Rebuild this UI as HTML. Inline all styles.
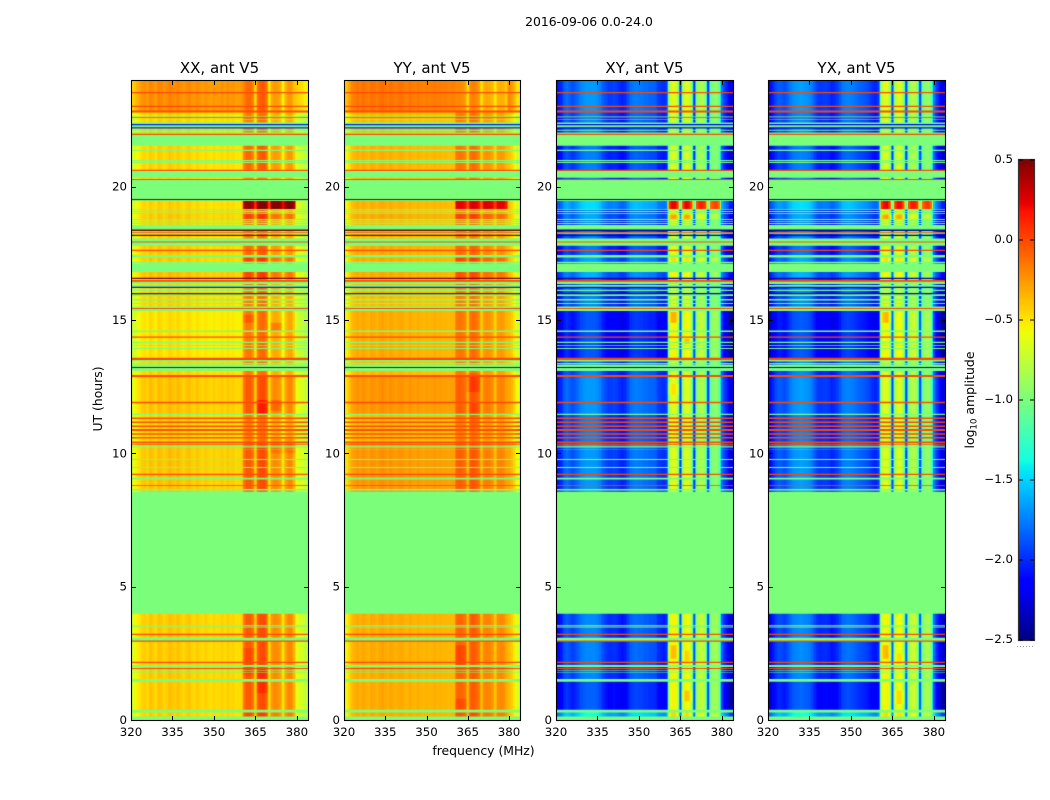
<!DOCTYPE html>
<html lang="en">
<head>
<meta charset="utf-8">
<title>2016-09-06 0.0-24.0</title>
<style>
html,body{margin:0;padding:0;background:#fff;}
#figure{position:relative;width:1050px;height:800px;overflow:hidden;background:#fff;font-family:"DejaVu Sans","Liberation Sans",sans-serif;}
canvas{position:absolute;display:block;}
svg{position:absolute;left:0;top:0;}
svg text{font-family:"DejaVu Sans","Liberation Sans",sans-serif;fill:#000;}
</style>
</head>
<body>
<div id="figure">
<svg id="overlay" width="1050" height="800"></svg>
</div>
<script>
// ---------- chart data ----------
const panelTitles = ["XX, ant V5", "YY, ant V5", "XY, ant V5", "YX, ant V5"];
const panelNames = ["xx", "yy", "xy", "yx"];
const freqTicks = [320, 335, 350, 365, 380];
const hourTicks = [0, 5, 10, 15, 20];
const colorTicks = [0.5, 0.0, -0.5, -1.0, -1.5, -2.0, -2.5];
const colorTickLabels = ["0.5", "0.0", "\u22120.5", "\u22121.0", "\u22121.5", "\u22122.0", "\u22122.5"];

// log10 amplitude per 1 MHz channel, 320..383 MHz
const spectrumXX = [-0.72,-0.62,-0.55,-0.5,-0.44,-0.42,-0.46,-0.38,-0.42,-0.46,-0.38,-0.4,-0.45,-0.42,-0.37,-0.4,-0.43,-0.38,-0.42,-0.46,-0.42,-0.39,-0.44,-0.46,-0.41,-0.45,-0.47,-0.43,-0.46,-0.48,-0.44,-0.47,-0.46,-0.43,-0.47,-0.42,-0.46,-0.44,-0.48,-0.47,-0.45,-0.12,-0.05,-0.05,-0.12,-0.42,-0.05,0.0,0.0,-0.08,-0.48,-0.25,-0.2,-0.22,-0.28,-0.5,-0.28,-0.2,-0.2,-0.35,-0.62,-0.65,-0.68,-0.75];
const spectrumYY = [-0.62,-0.55,-0.45,-0.36,-0.33,-0.3,-0.34,-0.29,-0.32,-0.35,-0.29,-0.31,-0.34,-0.3,-0.28,-0.31,-0.33,-0.29,-0.32,-0.34,-0.31,-0.3,-0.33,-0.35,-0.31,-0.34,-0.35,-0.32,-0.34,-0.36,-0.33,-0.35,-0.34,-0.32,-0.35,-0.33,-0.35,-0.34,-0.36,-0.35,-0.34,-0.1,-0.08,-0.1,-0.14,-0.36,-0.08,-0.05,-0.08,-0.14,-0.38,-0.2,-0.18,-0.2,-0.24,-0.4,-0.22,-0.2,-0.22,-0.3,-0.36,-0.42,-0.52,-0.66];
const spectrumXY = [-2.2,-2.1,-2.05,-1.9,-1.85,-1.9,-1.95,-1.9,-1.85,-1.78,-1.75,-1.72,-1.72,-1.72,-1.72,-1.75,-1.8,-1.9,-1.95,-2.0,-2.0,-1.98,-2.0,-2.05,-2.08,-2.05,-1.95,-1.85,-1.82,-1.8,-1.82,-1.82,-1.85,-1.85,-1.88,-1.88,-1.9,-2.0,-2.02,-2.05,-2.0,-0.72,-0.55,-0.55,-0.72,-1.9,-0.72,-0.55,-0.58,-0.8,-1.9,-0.88,-0.75,-0.75,-0.85,-1.9,-0.98,-0.88,-0.85,-1.0,-1.85,-2.0,-2.1,-2.3];
const spectrumYX = [-2.25,-2.15,-2.05,-1.95,-1.9,-1.92,-1.95,-1.9,-1.82,-1.76,-1.73,-1.72,-1.7,-1.72,-1.73,-1.76,-1.82,-1.92,-2.0,-2.02,-2.0,-2.0,-2.02,-2.08,-2.05,-2.0,-1.92,-1.82,-1.8,-1.78,-1.8,-1.82,-1.85,-1.88,-1.9,-1.92,-1.95,-2.0,-2.05,-2.08,-2.0,-0.72,-0.58,-0.55,-0.72,-1.85,-0.72,-0.58,-0.58,-0.8,-1.85,-0.88,-0.72,-0.72,-0.85,-1.85,-0.98,-0.85,-0.82,-0.98,-1.8,-2.0,-2.12,-2.3];

// channel span that carries the bright sub-bands
const brightChannels = [41, 59];

// level offsets: xxLow, xxBright, yyLow, yyBright, xyLow, xyBright, yxLow, yxBright
const levelLow = [0,0,0,0,0,0,0,0];
const levelLowDark = [0,0,0,0,-0.12,0,-0.12,0];
const levelBottom = [-0.02,0.05,0,0.05,0.35,0.1,0.35,0.1];
const levelTop = [0.2,-0.05,0.17,-0.12,0.05,-0.08,0.05,-0.08];
const levelYellow = [-0.03,-0.12,-0.05,-0.08,0,-0.1,0,-0.1];
const levelUpper = [-0.03,-0.05,-0.02,-0.05,-0.03,-0.1,-0.03,-0.1];
const levelHot = [-0.03,0.5,-0.02,0.33,0.25,0.78,0.25,0.78];
const levelWarm = [0,0.08,0,0.1,0.1,0.08,0.1,0.08];
const levelBand = [0,-0.05,0,-0.02,-0.05,-0.08,-0.05,-0.08];
const levelWarmer = [0.03,0.06,0,0.06,0.12,0,0.12,0];
const levelMid = [-0.07,-0.1,0,-0.05,-0.15,0,-0.15,0];
const levelOrange = [0.02,0,0.07,0.02,0.05,-0.08,0.05,-0.08];

const levelOffsets = {low:levelLow, lowd:levelLowDark, bot:levelBottom, top:levelTop, yel:levelYellow, up:levelUpper, hot:levelHot, warm:levelWarm, band:levelBand, warmer:levelWarmer, mid:levelMid, oran:levelOrange};

// flat rows: flagged (F), saturated red (R), dark (K), blue (L); one value per panel
const flatLevels = {F:[-1,-1,-1,-1], R:[0,0,0,0], K:[0.5,0.5,-2.4,-2.4], L:[-2.05,-2.05,-2.2,-2.2]};

// time structure: [hour where segment begins (going down from 24), kind]
const segments = [
[24,'top'],[23.55,'R'],[23.5,'top'],[23.03,'R'],[22.99,'top'],[22.86,'R'],[22.78,'yel'],[22.63,'F'],[22.61,'R'],[22.58,'yel'],[22.52,'F'],[22.5,'yel'],[22.41,'F'],[22.35,'L'],[22.3,'F'],[22.23,'L'],[22.18,'yel'],[22.13,'F'],[22.1,'yel'],[22.03,'F'],[21.98,'R'],[21.94,'F'],
[21.53,'up'],[21.38,'F'],[21.34,'up'],[21,'F'],[20.96,'up'],[20.93,'F'],[20.89,'up'],[20.63,'R'],[20.59,'F'],[20.33,'yel'],[20.29,'R'],[20.25,'F'],
[19.54,'K'],[19.5,'F'],[19.46,'hot'],[19.16,'F'],[19.13,'yel'],[19.09,'F'],[19.05,'yel'],[19.01,'F'],[18.98,'warm'],[18.79,'F'],[18.75,'yel'],[18.71,'F'],[18.68,'yel'],[18.64,'F'],[18.6,'yel'],[18.56,'F'],
[18.39,'K'],[18.34,'yel'],[18.3,'R'],[18.27,'F'],[18.23,'yel'],[18.2,'K'],[18.15,'yel'],[18.06,'F'],[17.94,'R'],[17.91,'F'],[17.78,'band'],[17.63,'R'],[17.59,'band'],[17.44,'F'],[17.34,'warm'],[17.19,'yel'],[17.18,'F'],[17.12,'yel'],[17.1,'F'],[17.04,'F'],
[16.8,'warmer'],[16.58,'K'],[16.54,'yel'],[16.5,'R'],[16.43,'F'],[16.35,'yel'],[16.31,'F'],[16.25,'L'],[16.2,'yel'],[16.13,'F'],[16.09,'yel'],[16.01,'K'],[15.97,'F'],[15.9,'yel'],[15.79,'F'],[15.73,'yel'],[15.64,'F'],[15.6,'yel'],[15.51,'F'],[15.45,'R'],[15.41,'F'],
[15.34,'mid'],[14.61,'F'],[14.55,'mid'],[14.38,'R'],[14.33,'mid'],[14.18,'F'],[14.14,'mid'],[14.06,'F'],[14.03,'mid'],[13.95,'F'],[13.91,'mid'],[13.58,'R'],[13.5,'F'],[13.44,'yel'],[13.39,'F'],[13.33,'yel'],[13.31,'F'],[13.24,'K'],[13.2,'F'],[13.09,'yel'],[12.94,'R'],
[12.86,'oran'],[11.93,'R'],[11.88,'oran'],[11.48,'F'],[11.44,'yel'],[11.34,'R'],[11.29,'yel'],[11.19,'R'],[11.14,'yel'],[11.04,'R'],[10.99,'yel'],[10.91,'R'],[10.84,'yel'],[10.75,'R'],[10.7,'yel'],[10.61,'R'],[10.56,'yel'],[10.44,'R'],[10.39,'oran'],[10.36,'R'],[10.32,'oran'],[10.28,'F'],[10.25,'oran'],[10.22,'F'],[10.2,'oran'],[10.14,'F'],[10.13,'oran'],[9.79,'F'],[9.75,'oran'],[9.49,'F'],[9.45,'oran'],[9.23,'R'],[9.19,'oran'],[9.08,'F'],[9.02,'oran'],[8.81,'R'],[8.78,'oran'],[8.66,'F'],[8.61,'oran'],[8.56,'F'],
[3.98,'low'],[3.56,'F'],[3.53,'low'],[3.51,'F'],[3.47,'low'],[3.23,'R'],[3.19,'low'],[3.08,'F'],[2.98,'R'],[2.93,'low'],[2.18,'R'],[2.14,'low'],[2.06,'F'],[1.99,'low'],[1.95,'R'],[1.91,'low'],[1.86,'F'],[1.84,'low'],[1.78,'F'],[1.76,'low'],[1.54,'F'],[1.43,'lowd'],[0.38,'F'],[0.28,'bot'],[0.13,'F']
];

// localised blotches: [panel, hour top, hour bottom, first channel, last channel, offset]
const patches = [
[0,1.9,1.0,46,49,0.1],[0,2.7,1.7,41,44,0.06],[0,12.0,11.5,46,49,0.16],[0,12.0,11.6,51,54,0.12],[0,10.6,10.0,51,59,0.08],[0,15.2,14.9,41,44,0.1],[0,14.9,14.6,51,54,0.15],[0,19.46,19.16,51,59,0.22],
[1,13.0,12.3,45,49,0.1],[1,2.8,2.0,41,44,0.1],[1,11.9,10.9,46,49,0.06],[1,0.8,0.4,41,44,0.08],[1,19.46,19.16,51,59,0.12],
[2,2.8,2.3,41,44,0.18],[2,2.6,2.2,46,49,0.12],[2,15.3,14.9,41,44,0.22],[2,14.3,14.1,46,49,0.18],[2,12.6,12.2,41,44,0.14],[2,1.1,0.7,46,49,0.16],[2,18.95,18.8,41,49,0.2],[2,19.46,19.16,51,59,0.1],
[3,2.8,2.3,41,44,0.2],[3,2.5,2.1,46,49,0.1],[3,15.3,14.9,41,44,0.2],[3,1.1,0.6,46,49,0.12],[3,18.95,18.8,41,49,0.2],[3,19.46,19.16,51,59,0.1]
];

const spectra = [spectrumXX, spectrumYY, spectrumXY, spectrumYX];

// ---------- axes ----------
const panelLeft = [131, 344, 556, 768];
const panelWidths = [177, 176, 177, 177];
const panelTop = 80;
const panelHeight = 640;
const freqMin = 320, freqMax = 384, hourMin = 0, hourMax = 24;
const colorMin = -2.5, colorMax = 0.5;
const cbLeft = 1019, cbTop = 160, cbWidth = 15, cbHeight = 480;

function xScale(p, f) { return panelLeft[p] + (f - freqMin) / (freqMax - freqMin) * panelWidths[p]; }
function yScale(h) { return panelTop + (hourMax - h) / (hourMax - hourMin) * panelHeight; }
function cbScale(v) { return cbTop + (colorMax - v) / (colorMax - colorMin) * cbHeight; }

function ramp(t, pts) {
  for (let i = 1; i < pts.length; i++) {
    if (t <= pts[i][0]) {
      const a = pts[i - 1], b = pts[i];
      return a[1] + (b[1] - a[1]) * (t - a[0]) / (b[0] - a[0]);
    }
  }
  return pts[pts.length - 1][1];
}
const jetR = [[0,0],[0.35,0],[0.66,1],[0.89,1],[1,0.5]];
const jetG = [[0,0],[0.125,0],[0.375,1],[0.64,1],[0.91,0],[1,0]];
const jetB = [[0,0.5],[0.11,1],[0.34,1],[0.65,0],[1,0]];
const lut = [];
for (let i = 0; i <= 1024; i++) {
  const t = i / 1024;
  lut.push([ramp(t, jetR) * 255, ramp(t, jetG) * 255, ramp(t, jetB) * 255]);
}
function jet(v) {
  let t = (v - colorMin) / (colorMax - colorMin);
  t = Math.max(0, Math.min(1, t));
  return lut[Math.round(t * 1024)];
}

function segmentAt(h) {
  for (let i = segments.length - 1; i >= 0; i--) {
    if (h <= segments[i][0] && (i === segments.length - 1 || h > segments[i + 1][0])) return segments[i][1];
  }
  return 'F';
}

function channelValues(p, h) {
  const key = segmentAt(h);
  const out = new Array(64);
  if (flatLevels[key]) {
    out.fill(flatLevels[key][p]);
    return out;
  }
  const lv = levelOffsets[key];
  const spec = spectra[p];
  for (let c = 0; c < 64; c++) {
    const bright = c >= brightChannels[0] && c <= brightChannels[1];
    out[c] = spec[c] + lv[p * 2 + (bright ? 1 : 0)];
  }
  for (const pt of patches) {
    if (pt[0] === p && h <= pt[1] && h >= pt[2]) {
      for (let c = pt[3]; c <= pt[4]; c++) out[c] += pt[5];
    }
  }
  return out;
}

const figure = document.getElementById('figure');
const SUB = 4;
panelTitles.forEach(function (title, p) {
  const W = panelWidths[p];
  const cv = document.createElement('canvas');
  
  
  cv.width = W;
  cv.height = panelHeight;
  cv.style.left = panelLeft[p] + 'px';
  cv.style.top = panelTop + 'px';
  figure.insertBefore(cv, figure.firstChild);
  const ctx = cv.getContext('2d');
  const img = ctx.createImageData(W, panelHeight);
  const d = img.data;
  const col0 = new Int32Array(W), frac = new Float64Array(W);
  for (let x = 0; x < W; x++) {
    const f = freqMin + (x + 0.5) / W * (freqMax - freqMin);
    const c = Math.min(62.999, f - freqMin);
    col0[x] = Math.floor(c);
    frac[x] = Math.max(0, Math.min(1, (c - col0[x] - 0.2) / 0.6));
  }
  for (let y = 0; y < panelHeight; y++) {
    const rs = new Float64Array(W), gs = new Float64Array(W), bs = new Float64Array(W);
    for (let s = 0; s < SUB; s++) {
      const h = hourMax - (y + (s + 0.5) / SUB) / panelHeight * (hourMax - hourMin);
      const vals = channelValues(p, h);
      for (let x = 0; x < W; x++) {
        const v = vals[col0[x]] * (1 - frac[x]) + vals[col0[x] + 1] * frac[x];
        const c = jet(v);
        rs[x] += c[0]; gs[x] += c[1]; bs[x] += c[2];
      }
    }
    for (let x = 0; x < W; x++) {
      const o = (y * W + x) * 4;
      d[o] = rs[x] / SUB;
      d[o + 1] = gs[x] / SUB;
      d[o + 2] = bs[x] / SUB;
      d[o + 3] = 255;
    }
  }
  ctx.putImageData(img, 0, 0);
});

// colorbar fill
const cb = document.createElement('canvas');


cb.width = cbWidth;
cb.height = cbHeight;
cb.style.left = cbLeft + 'px';
cb.style.top = cbTop + 'px';
figure.insertBefore(cb, figure.firstChild);
const cbCtx = cb.getContext('2d');
for (let y = 0; y < cbHeight; y++) {
  const v = colorMax - (y + 0.5) / cbHeight * (colorMax - colorMin);
  const c = jet(v);
  cbCtx.fillStyle = 'rgb(' + Math.round(c[0]) + ',' + Math.round(c[1]) + ',' + Math.round(c[2]) + ')';
  cbCtx.fillRect(0, y, cbWidth, 1);
}

// ---------- svg overlay ----------
const svg = document.getElementById('overlay');
const NS = 'http://www.w3.org/2000/svg';
function make(tag, attrs, parent, txt) {
  const el = document.createElementNS(NS, tag);
  for (const k in attrs) el.setAttribute(k, attrs[k]);
  if (txt !== undefined) el.textContent = txt;
  (parent || svg).appendChild(el);
  return el;
}

panelTitles.forEach(function (title, p) {
  const g = make('g', {});
  
  
  const left = panelLeft[p];
  const W = panelWidths[p];
  const frame = make('rect', {x: left + 0.5, y: panelTop + 0.5, width: W, height: panelHeight, fill: 'none', stroke: '#000', 'stroke-width': 1.1}, g);
  
  
  const tt = make('text', {x: left + W / 2, y: 73, 'text-anchor': 'middle', 'font-size': 15}, g, title);
  
  
  freqTicks.forEach(function (f) {
    const x = Math.round(xScale(p, f)) + 0.5;
    const tb = make('line', {x1: x, x2: x, y1: panelTop + panelHeight + 0.5, y2: panelTop + panelHeight - 4, stroke: '#000', 'stroke-width': 1}, g);
    
    
    const tu = make('line', {x1: x, x2: x, y1: panelTop + 0.5, y2: panelTop + 5, stroke: '#000', 'stroke-width': 1}, g);
    
    
    const lb = make('text', {x: xScale(p, f), y: 736, 'text-anchor': 'middle', 'font-size': 11.8}, g, String(f));
    
    
  });
  hourTicks.forEach(function (h) {
    const y = Math.round(yScale(h)) + 0.5;
    const tl = make('line', {x1: left + 0.5, x2: left + 5, y1: y, y2: y, stroke: '#000', 'stroke-width': 1}, g);
    
    
    const tr = make('line', {x1: left + W + 0.5, x2: left + W - 4, y1: y, y2: y, stroke: '#000', 'stroke-width': 1}, g);
    
    
    const lb = make('text', {x: left - 4, y: yScale(h) + 4, 'text-anchor': 'end', 'font-size': 11.8}, g, String(h));
    
    
  });
});

// colorbar frame, ticks, labels
const cbGroup = make('g', {});


const cbFrame = make('rect', {x: cbLeft - 0.5, y: cbTop - 0.5, width: cbWidth + 1, height: cbHeight + 1, fill: 'none', stroke: '#333', 'stroke-width': 1.2}, cbGroup);


colorTicks.forEach(function (v, i) {
  const y = cbScale(v);
  const a = make('line', {x1: cbLeft, x2: cbLeft + 4, y1: y, y2: y, stroke: '#000', 'stroke-width': 1}, cbGroup);
  
  
  const b = make('line', {x1: cbLeft + cbWidth, x2: cbLeft + cbWidth - 4, y1: y, y2: y, stroke: '#000', 'stroke-width': 1}, cbGroup);
  
  
  const lb = make('text', {x: cbLeft - 6, y: y + 3, 'text-anchor': 'end', 'font-size': 11.8}, cbGroup, colorTickLabels[i]);
  
  
});
const dots = make('line', {x1: 1017, x2: 1035, y1: 646.5, y2: 646.5, stroke: '#999', 'stroke-width': 1, 'stroke-dasharray': '1 2'}, cbGroup);



const cbTitle = make('text', {transform: 'translate(974,400) rotate(-90)', 'text-anchor': 'middle', 'font-size': 12.5}, cbGroup);


make('tspan', {}, cbTitle, 'log');
make('tspan', {'font-size': 8.5, dy: 2.5}, cbTitle, '10');
make('tspan', {dy: -2.5}, cbTitle, ' amplitude');

const sup = make('text', {x: 589, y: 26, 'text-anchor': 'middle', 'font-size': 12.4}, svg, '2016-09-06 0.0-24.0');


const xl = make('text', {x: 483.5, y: 755, 'text-anchor': 'middle', 'font-size': 12.4}, svg, 'frequency (MHz)');


const yl = make('text', {transform: 'translate(102,399) rotate(-90)', 'text-anchor': 'middle', 'font-size': 12.4}, svg, 'UT (hours)');


</script>
</body>
</html>
